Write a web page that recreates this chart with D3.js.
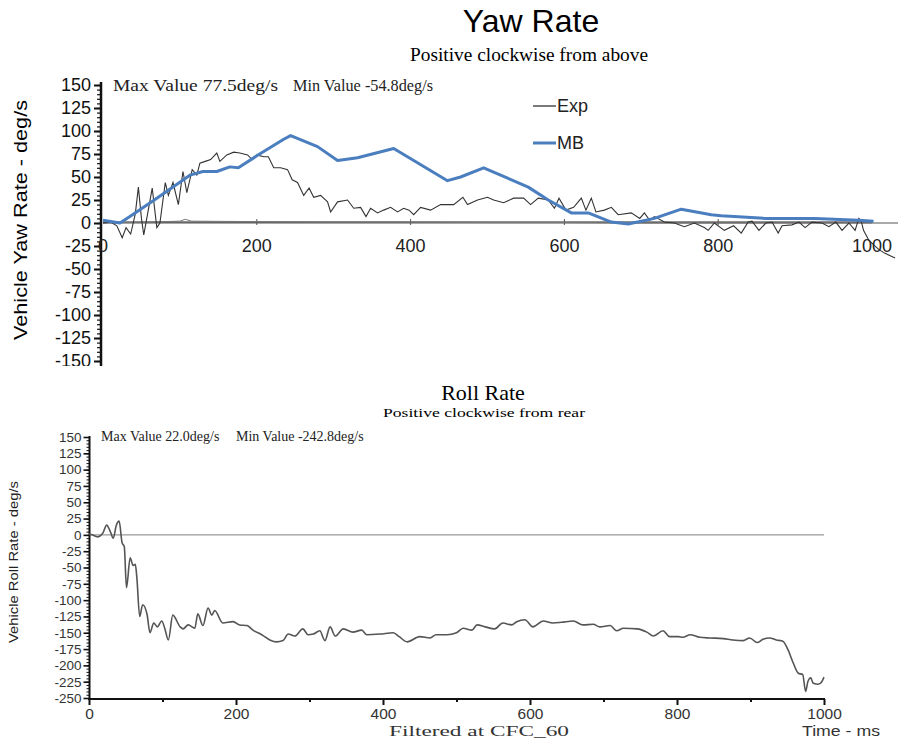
<!DOCTYPE html>
<html>
<head>
<meta charset="utf-8">
<script src="https://cdn.jsdelivr.net/npm/d3@7"></script>
<style>
  body { margin: 0; background: #fff; }
  svg { display: block; }
</style>
</head>
<body>
<div id="chart"></div>
<script>
const width = 899;
const height = 743;

// ---- data: [time ms, deg/s] ----
const yawExp = [
  [0,0],[10,1],[18,-3],[25,-16],[30,-5],[36,-12],[42,10],[46,39],[50,5],[53,-13],[58,10],[64,38],
  [70,-5],[74,0],[81,44],[85,30],[91,44],[98,20],[104,56],[109,33],[116,58],[122,52],[126,65],
  [133,67],[140,69],[148,76],[152,67],[161,74],[170,77],[178,76],[188,74],[194,69],[200,74],
  [209,72],[215,72],[222,60],[231,60],[240,58],[246,47],[253,44],[261,30],[268,38],[274,28],
  [283,30],[292,23],[296,12],[305,23],[318,25],[326,16],[335,17],[342,7],[348,16],[357,11],
  [365,14],[374,17],[383,12],[391,16],[398,14],[404,9],[413,17],[426,14],[439,20],[456,20],
  [468,28],[474,20],[487,25],[500,28],[508,25],[521,22],[534,27],[547,27],[556,20],[566,27],
  [579,25],[587,16],[593,27],[602,14],[612,17],[622,27],[628,14],[635,27],[641,12],[652,14],
  [661,17],[670,9],[687,11],[698,5],[704,11],[711,3],[717,7],[730,1],[743,0],[756,-4],[769,0],
  [782,-5],[787,-8],[795,0],[808,-8],[820,-3],[830,-11],[839,1],[844,2],[853,-8],[862,0],
  [870,1],[878,-11],[883,-3],[896,-2],[905,1],[913,-5],[922,1],[935,0],[944,-4],[953,1],
  [961,-8],[970,0],[978,-8],[983,5],[986,2],[989,-8],[996,-19],[1009,-29],[1017,-33],[1030,-38]
];
const yawExpBase = [
  [0,0],[60,1],[100,2],[107,4],[115,2],[200,1.5],[300,1],[400,1],[500,0.5],[600,0.5],[700,0],[1000,0]
];
const yawMB = [
  [0,3],[22,0],[35,7],[70,27],[113,52],[130,56],[148,56],[165,61],[176,60],[200,73],[235,91],
  [244,95],[279,83],[305,68],[331,71],[378,81],[448,46],[465,50],[495,60],[553,39],[579,25],
  [609,11],[631,11],[661,1],[683,-1],[717,5],[752,15],[791,9],[804,8],[861,5],[926,5],[983,3],[1002,2]
];
const rollExp = [
  [0,0],[1,1],[12,-3],[19,3],[24,15],[29,5],[33,-5],[37,14],[41,21],[45,-12],[48,-18],[51,-81],
  [56,-35],[60,-47],[63,-45],[65,-64],[69,-125],[73,-107],[79,-122],[83,-150],[88,-135],[93,-141],
  [99,-132],[103,-143],[108,-161],[114,-123],[124,-141],[128,-144],[135,-138],[144,-143],[148,-121],
  [155,-139],[162,-112],[167,-123],[171,-116],[182,-135],[196,-133],[205,-138],[215,-139],[223,-146],
  [235,-153],[246,-161],[255,-164],[264,-162],[271,-152],[280,-155],[291,-144],[298,-153],[305,-152],
  [314,-147],[321,-162],[328,-141],[335,-155],[346,-144],[359,-149],[371,-146],[378,-153],[396,-152],
  [414,-150],[422,-156],[433,-164],[450,-156],[464,-158],[472,-153],[487,-153],[500,-150],[509,-143],
  [521,-146],[528,-138],[539,-141],[552,-144],[563,-135],[575,-138],[582,-133],[593,-130],[604,-141],
  [618,-132],[631,-135],[643,-134],[659,-132],[672,-138],[686,-137],[695,-141],[709,-139],[718,-147],
  [727,-143],[746,-144],[759,-149],[768,-155],[781,-147],[790,-156],[802,-156],[808,-157],[818,-153],
  [831,-157],[845,-158],[863,-159],[876,-161],[890,-162],[899,-158],[909,-165],[917,-160],[926,-158],
  [935,-161],[944,-163],[951,-176],[958,-196],[965,-212],[971,-214],[975,-240],[978,-225],[982,-219],
  [985,-227],[992,-229],[997,-225],[1000,-218]
];

const timeTicks = [0, 200, 400, 600, 800, 1000];
const timeMinorTicks = [100, 300, 500, 700, 900];
const yawTicks = d3.range(-150, 151, 25);
const rollTicks = d3.range(-250, 151, 25);

const sans = "'Liberation Sans', Arial, sans-serif";
const serif = "'Liberation Serif', 'Times New Roman', serif";
const plain = d => String(d);   // hyphen minus, no thousands comma

const svg = d3.select("#chart").append("svg")
  .attr("width", width)
  .attr("height", height)
  .attr("viewBox", [0, 0, width, height]);

// ================= YAW RATE =================
svg.append("clipPath").attr("id", "topclip")
  .append("rect").attr("x", 0).attr("y", 0).attr("width", width).attr("height", 366);

const topG = svg.append("g").attr("clip-path", "url(#topclip)");

const xTop = d3.scaleLinear().domain([0, 1000]).range([103, 872]);
const yTop = d3.scaleLinear().domain([-150, 150]).range([361, 85]);

topG.append("text")
  .attr("x", 531).attr("y", 32)
  .attr("text-anchor", "middle")
  .attr("font-family", sans).attr("font-size", 32)
  .text("Yaw Rate");

topG.append("text")
  .attr("x", 529).attr("y", 61)
  .attr("text-anchor", "middle")
  .attr("font-family", serif).attr("font-size", 18)
  .attr("textLength", 238).attr("lengthAdjust", "spacingAndGlyphs")
  .text("Positive clockwise from above");

topG.append("text")
  .attr("x", 113).attr("y", 91)
  .attr("font-family", serif).attr("font-size", 17).attr("fill", "#222")
  .attr("textLength", 165).attr("lengthAdjust", "spacingAndGlyphs")
  .text("Max Value 77.5deg/s");
topG.append("text")
  .attr("x", 293).attr("y", 91)
  .attr("font-family", serif).attr("font-size", 17).attr("fill", "#222")
  .attr("textLength", 140).attr("lengthAdjust", "spacingAndGlyphs")
  .text("Min Value -54.8deg/s");

// y label
topG.append("text")
  .attr("transform", "translate(27,220) rotate(-90)")
  .attr("text-anchor", "middle")
  .attr("font-family", sans).attr("font-size", 18)
  .attr("textLength", 240).attr("lengthAdjust", "spacingAndGlyphs")
  .text("Vehicle Yaw Rate - deg/s");

// zero lines
topG.append("line")
  .attr("x1", xTop(0)).attr("x2", 898)
  .attr("y1", yTop(0)).attr("y2", yTop(0))
  .attr("stroke", "#8c8c8c").attr("stroke-width", 1.3);
topG.append("line")
  .attr("x1", xTop(0)).attr("x2", xTop(1000))
  .attr("y1", yTop(0) - 1).attr("y2", yTop(0) - 1)
  .attr("stroke", "#222").attr("stroke-width", 1);
topG.selectAll(".ztick")
  .data([200, 400, 600, 800])
  .join("line")
  .attr("x1", d => xTop(d)).attr("x2", d => xTop(d))
  .attr("y1", yTop(0) - 4).attr("y2", yTop(0) + 2)
  .attr("stroke", "#555").attr("stroke-width", 1);

// y axis (minor ruler + major)
const yAxisTop = topG.append("g").attr("transform", "translate(101,0)");
yAxisTop.call(d3.axisLeft(yTop).tickValues(d3.range(-150, 151, 5)).tickSize(4).tickFormat(""))
  .call(g => g.select(".domain").remove())
  .call(g => g.selectAll(".tick line").attr("stroke", "#111").attr("stroke-width", 1.2));
yAxisTop.append("g")
  .call(d3.axisLeft(yTop).tickValues(yawTicks).tickSize(7).tickPadding(3).tickFormat(plain))
  .call(g => g.select(".domain").remove())
  .call(g => g.selectAll(".tick line").attr("stroke", "#111").attr("stroke-width", 2))
  .call(g => g.selectAll(".tick text").attr("font-family", sans).attr("font-size", 18).attr("fill", "#111"));
yAxisTop.append("line")
  .attr("x1", 0).attr("x2", 0).attr("y1", 82).attr("y2", 366)
  .attr("stroke", "#111").attr("stroke-width", 2.5);

// x labels
topG.selectAll(".xl")
  .data(timeTicks)
  .join("text")
  .attr("x", d => xTop(d)).attr("y", 252)
  .attr("text-anchor", "middle")
  .attr("font-family", sans).attr("font-size", 18).attr("fill", "#222")
  .text(plain);

const lineTop = d3.line().x(d => xTop(d[0])).y(d => yTop(d[1]));

topG.append("path").datum(yawExpBase)
  .attr("d", lineTop).attr("fill", "none")
  .attr("stroke", "#777").attr("stroke-width", 1);
topG.append("path").datum(yawExp)
  .attr("d", lineTop).attr("fill", "none")
  .attr("stroke", "#333").attr("stroke-width", 1.1);
topG.append("path").datum(yawMB)
  .attr("d", lineTop).attr("fill", "none")
  .attr("stroke", "#4a7ebf").attr("stroke-width", 3)
  .attr("stroke-linejoin", "round");

// legend
const legend = topG.append("g");
const legendItems = [
  { name: "Exp", color: "#222", w: 1.2, y: 106 },
  { name: "MB", color: "#4a7ebf", w: 3, y: 143 }
];
legend.selectAll("line")
  .data(legendItems)
  .join("line")
  .attr("x1", 533).attr("x2", 556)
  .attr("y1", d => d.y).attr("y2", d => d.y)
  .attr("stroke", d => d.color).attr("stroke-width", d => d.w);
legend.selectAll("text")
  .data(legendItems)
  .join("text")
  .attr("x", 557).attr("y", d => d.y + 6)
  .attr("font-family", sans).attr("font-size", 18).attr("fill", "#222")
  .text(d => d.name);

// ================= ROLL RATE =================
const botG = svg.append("g");
const xBot = d3.scaleLinear().domain([0, 1000]).range([89, 824]);
const yBot = d3.scaleLinear().domain([-250, 150]).range([698, 437]);

botG.append("text")
  .attr("x", 483).attr("y", 400)
  .attr("text-anchor", "middle")
  .attr("font-family", serif).attr("font-size", 22)
  .text("Roll Rate");
botG.append("text")
  .attr("x", 484).attr("y", 417)
  .attr("text-anchor", "middle")
  .attr("font-family", serif).attr("font-size", 13.5)
  .attr("textLength", 202).attr("lengthAdjust", "spacingAndGlyphs")
  .text("Positive clockwise from rear");
botG.append("text")
  .attr("x", 101).attr("y", 441)
  .attr("font-family", serif).attr("font-size", 14).attr("fill", "#222")
  .text("Max Value 22.0deg/s");
botG.append("text")
  .attr("x", 236).attr("y", 441)
  .attr("font-family", serif).attr("font-size", 14).attr("fill", "#222")
  .text("Min Value -242.8deg/s");

botG.append("text")
  .attr("transform", "translate(18,562) rotate(-90)")
  .attr("text-anchor", "middle")
  .attr("font-family", sans).attr("font-size", 12.5).attr("fill", "#222")
  .attr("textLength", 162).attr("lengthAdjust", "spacingAndGlyphs")
  .text("Vehicle Roll Rate - deg/s");

botG.append("line")
  .attr("x1", xBot(0)).attr("x2", xBot(1000))
  .attr("y1", yBot(0)).attr("y2", yBot(0))
  .attr("stroke", "#999").attr("stroke-width", 1.2);

// y axis
const yAxisBot = botG.append("g").attr("transform", "translate(89.5,0)");
yAxisBot.call(d3.axisLeft(yBot).tickValues(d3.range(-250, 151, 5)).tickSize(3).tickFormat(""))
  .call(g => g.select(".domain").remove())
  .call(g => g.selectAll(".tick line").attr("stroke", "#111").attr("stroke-width", 1));
yAxisBot.append("g")
  .call(d3.axisLeft(yBot).tickValues(rollTicks).tickSize(6).tickPadding(2).tickFormat(plain))
  .call(g => g.select(".domain").remove())
  .call(g => g.selectAll(".tick line").attr("stroke", "#111").attr("stroke-width", 1.6))
  .call(g => g.selectAll(".tick text").attr("font-family", sans).attr("font-size", 13.5).attr("fill", "#333"));
yAxisBot.append("line")
  .attr("x1", 0).attr("x2", 0).attr("y1", yBot(150) - 1).attr("y2", yBot(-250) + 2)
  .attr("stroke", "#111").attr("stroke-width", 2);

// x axis
const xAxisBot = botG.append("g").attr("transform", "translate(0,699)");
xAxisBot.call(d3.axisBottom(xBot).tickValues(timeMinorTicks).tickSize(3).tickFormat(""))
  .call(g => g.select(".domain").remove())
  .call(g => g.selectAll(".tick line").attr("stroke", "#111").attr("stroke-width", 2));
xAxisBot.append("g")
  .call(d3.axisBottom(xBot).tickValues(timeTicks).tickSize(6).tickPadding(3).tickFormat(plain))
  .call(g => g.select(".domain").remove())
  .call(g => g.selectAll(".tick line").attr("stroke", "#111").attr("stroke-width", 2))
  .call(g => g.selectAll(".tick text").attr("font-family", sans).attr("font-size", 15.5).attr("fill", "#333"));
xAxisBot.append("line")
  .attr("x1", xBot(0) - 1).attr("x2", xBot(1000) + 1)
  .attr("stroke", "#111").attr("stroke-width", 2);

botG.append("text")
  .attr("x", 479).attr("y", 736)
  .attr("text-anchor", "middle")
  .attr("font-family", serif).attr("font-size", 15).attr("fill", "#333")
  .attr("textLength", 180).attr("lengthAdjust", "spacingAndGlyphs")
  .text("Filtered at CFC_60");
botG.append("text")
  .attr("x", 802).attr("y", 736)
  .attr("font-family", sans).attr("font-size", 15).attr("fill", "#333")
  .attr("textLength", 78).attr("lengthAdjust", "spacingAndGlyphs")
  .text("Time - ms");

const lineBot = d3.line().x(d => xBot(d[0])).y(d => yBot(d[1])).curve(d3.curveMonotoneX);
botG.append("path").datum(rollExp)
  .attr("d", lineBot).attr("fill", "none")
  .attr("stroke", "#555").attr("stroke-width", 1.6)
  .attr("stroke-linejoin", "round");
</script>
</body>
</html>
